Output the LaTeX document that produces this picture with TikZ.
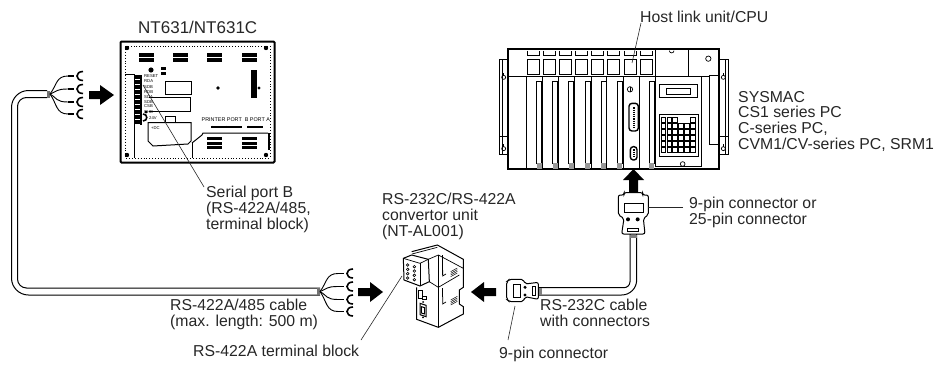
\documentclass[tikz,border=0pt]{standalone}
\usepackage{fontspec}
\setmainfont{Liberation Sans}
\tikzset{
  lbl/.style={anchor=north west,inner sep=0pt,align=left,font=\fontsize{15.8}{15.7}\selectfont,text=black!85},
  tiny/.style={anchor=west,inner sep=0pt,font=\fontsize{4.2}{4.2}\selectfont},
  leader/.style={line width=0.6pt,black!85},
  thin part/.style={line width=0.7pt},
  med/.style={line width=1pt},
  heavy/.style={line width=1.7pt},
  blockarrow/.style={fill=black,draw=none}
}
\newcommand{\forks}{%
  \foreach \fy in {-18,-5,8,20}{
    \draw[line width=0.9pt] (0,0) .. controls (7,\fy*0.5) and (6,\fy) .. (18,\fy);
    \draw[line width=1.5pt] (18,\fy) -- (24,\fy);
    \draw[line width=1.6pt] (33,\fy-4.5) .. controls (25,\fy-4.5) and (25,\fy+4.5) .. (33,\fy+4.5);
  }
}
\begin{document}
\begin{tikzpicture}[x=1pt,y=-1pt]
\useasboundingbox (0,0) rectangle (936,364);
% ---------- NT631 panel
\draw[line width=2pt,rounded corners=1pt] (120.5,41.5) rectangle (274.5,162.5);
\draw[line width=0.9pt,dotted] (125,46) rectangle (270,158);
\foreach \x in {127,266}{\foreach \y in {48,155}{\fill (\x,\y) circle (2.2);}}
\foreach \x/\w in {139/15,173/15,207/15,242/15}{
  \fill (\x,53) rectangle +(\w,3.5);
  \fill (\x,58) rectangle +(\w,4);
}
\foreach \x in {207,242}{
  \fill (\x,137) rectangle +(15,3);
  \fill (\x,141.5) rectangle +(15,3);
  \fill (\x,146) rectangle +(15,3);
}
\fill (151,70) circle (2.6);
\fill (161,67) rectangle +(5,3); \fill (161,71.5) rectangle +(5,3);
\fill (218,88) circle (1.8);
\fill (251,70) rectangle (257,98);
\fill (259,88) circle (1.6);
\draw[thin part] (165,81) rectangle (191,94);
\draw[thin part] (149,97) -- (190,97) -- (190,111.5) -- (149,111.5);
\draw[thin part] (125,74) -- (134,74) -- (134,158);
\fill (134,75) rectangle (142,125);
\foreach \y in {79,84,...,124}{\draw[white,line width=0.5pt] (135,\y) -- (140,\y);}
\foreach \y/\t in {76.5/RESET,81.5/RDA,87/SDB,92/RDB,97.5/SDA,102/SDB,106.5/CSB,112/SHD}{
  \node[tiny] at (144,\y) {\t};
}
\fill (146,112) circle (1.6);
\draw[line width=1.6pt] (143,114) .. controls (148,114) and (148,121) .. (143,121);
\node[tiny] at (149,118.5) {24V};
\draw[med] (148,122.5) -- (191,122.5) -- (191,141) -- (188,144) -- (153,146) -- (148,141) -- cycle;
\node[tiny] at (151,128.5) {+DC};
\draw[med] (165,122) -- (165,116) -- (175,116) -- (175,122);
\draw[med] (192,143) -- (202,135) -- (203,133) -- (268,133);
\draw[thin part] (192,143) -- (192,158);
\draw[line width=1.6pt] (269,133) -- (269,150);
\foreach \x/\w in {212/12,226/15,248/14}{\draw[line width=1.3pt] (\x,125.5) -- ++(0,1.5) -- ++(\w,0) -- ++(0,-1.5);}
\node[tiny,font=\fontsize{5.4}{5.4}\selectfont] (printerports) at (201.5,120) {PRINTER PORT\ \ B PORT A};
% cable
\coordinate (cableTop) at (47,94);
\coordinate (cableBot) at (320,291.5);
\draw[line width=1pt,rounded corners=17pt] (47,90.5) -- (11.5,90.5) -- (11.5,295) -- (320,295);
\draw[line width=1pt,rounded corners=9pt] (47,97.5) -- (17.5,97.5) -- (17.5,288) -- (320,288);
\draw[med] (47,90.5) -- (47,97.5);
\fill[black!55] (47,90.5) rectangle (50,97.5);
\fill[black!55] (317,288) rectangle (320,295);
\begin{scope}[shift={(50,94)}]\forks\end{scope}
\begin{scope}[shift={(320,291.5)}]\forks\end{scope}
% arrows
\fill[blockarrow] (89,91) -- (100,91) -- (100,85) -- (114,95) -- (100,105) -- (100,99) -- (89,99) -- cycle;
\fill[blockarrow] (358,288) -- (370,288) -- (370,282) -- (383,292) -- (370,302) -- (370,296) -- (358,296) -- cycle;
\fill[blockarrow] (496,288) -- (484,288) -- (484,282) -- (471,292) -- (484,302) -- (484,296) -- (496,296) -- cycle;
\fill[blockarrow] (629,192) -- (629,180) -- (623,180) -- (633.5,169) -- (644,180) -- (638,180) -- (638,192) -- cycle;
% ---------- PLC (zoom coordinates)
\begin{scope}[shift={(480,0)},scale=1/3]
  \draw[med] (85,178) -- (57,178) -- (57,462) -- (85,462);
  \draw[med] (717,178) -- (745,178) -- (745,462) -- (717,462);
  \draw[thin part] (67,178) -- (67,462);
  \draw[thin part] (735,178) -- (735,462);
  \draw[thin part] (57,408) -- (85,408);
  \draw[thin part] (717,408) -- (745,408);
  \foreach \x in {71,730}{\foreach \y in {232,446}{
    \draw[thin part] (\x,\y) circle (6);
    \draw[thin part] (\x,\y-6) -- (\x,\y-13);
  }}
  \draw[heavy] (85,148) rectangle (717,507);
  \draw[med] (85,228) -- (527,228);
  \foreach \x in {143,191,239,287,335,383,432,480}{
    \draw[thin part] (\x,152) -- (\x,165) -- (\x+36,165) -- (\x+36,152);
    \draw[thin part] (\x,178) rectangle (\x+36,224);
  }
  \foreach \x in {138,188,235,283,333,380,430,478}{\draw[thin part] (\x,228) -- (\x,507);}
  \foreach \x in {170,218,266,315,363,411,508}{
    \draw[thin part] (\x,245) rectangle (\x+15,490);
    \fill[black!40] (\x,490) rectangle (\x+15,506);
  }
  \draw[thin part] (527,148) -- (527,228);
  \draw[thin part] (625,148) -- (625,228);
  \draw[thin part] (527,228) -- (687,228);
  \draw[thin part] (685,176) circle (8);
  \draw[thin part] (568,152) .. controls (568,161) and (582,161) .. (582,152);
  \draw[thin part] (717,225) -- (687,225) -- (687,432) -- (717,432);
  % programming console
  \draw[med] (527,228) rectangle (663,498);
  \draw[med] (538,252) rectangle (652,292);
  \draw[med] (558,265) rectangle (632,282);
  \draw[med] (538,343) rectangle (654,468);
  \foreach \c in {0,...,5}{\foreach \r in {1,...,5}{
    \draw[line width=0.6pt,fill=white] (543+\c*17.5,352+\r*18) rectangle +(14,14);
  }}
  \foreach \x in {543,560.5,578,630.5}{
    \draw[line width=0.6pt,fill=white] (\x,352) rectangle +(14,14);
  }
  \draw[thin part] (608,492) circle (7);
  % host link connectors
  \draw[thin part] (450,268) circle (8);
  \draw[thin part] (450,261) -- (450,275);
  \draw[line width=1.4pt,rounded corners=3pt] (447,310) -- (475,310) -- (475,393) -- (447,393) -- cycle;
  \draw[line width=2pt,dash pattern=on 1.2pt off 1pt] (461,322) -- (461,382);
  \draw[line width=1.4pt,rounded corners=3pt] (451,440) -- (471,440) -- (471,480) -- (451,480) -- cycle;
  \draw[line width=2pt,dash pattern=on 1.2pt off 1pt] (461,448) -- (461,473);
\end{scope}
% ---------- RS-232C cable with connectors (zoom coordinates)
\begin{scope}[shift={(480,200)},scale=1/3]
  \draw[med,rounded corners=6pt] (450,102) -- (450,263) -- (175,263);
  \draw[med,rounded corners=15pt] (470,102) -- (470,285) -- (175,285);
  \fill[black!50] (450,105) rectangle (470,115);
  \fill[black!50] (175,263) rectangle (187,285);
  \draw[med,fill=white,rounded corners=2pt] (415,-15) -- (432,-15) -- (432,-22) -- (488,-22) -- (488,-15) -- (505,-15) -- (505,45) -- (490,55) -- (495,102) -- (425,102) -- (432,55) -- (415,45) -- cycle;
  \draw[med] (432,10) rectangle (490,38);
  \fill (444,58) circle (6); \fill (473,58) circle (6);
  \draw[med] (442,85) rectangle (476,93);
  \draw[med,fill=white,rounded corners=2pt] (88,238) -- (130,238) -- (135,252) -- (175,247) -- (175,298) -- (135,290) -- (130,305) -- (88,305) -- (80,298) -- (80,245) -- cycle;
  \draw[med] (100,252) rectangle (120,292);
  \fill (135,262) circle (5); \fill (135,285) circle (5);
  \draw[med] (158,258) rectangle (166,285);
\end{scope}
% ---------- NT-AL001 (zoom coordinates)
\begin{scope}[shift={(300,200)},scale=1/3]
  \draw[med,fill=white] (335,155) -- (412,135) -- (490,178) -- (490,262) -- (478,270) -- (478,312) -- (490,320) -- (490,342) -- (415,382) -- (350,358) -- (350,262);
  \draw[thin part] (412,142) -- (336,162);
  \draw[thin part] (385,178) -- (415,165) -- (490,205);
  \draw[thin part] (415,165) -- (415,382);
  \draw[thin part] (388,245) -- (415,262) -- (478,225);
  \draw[thin part] (428,165) -- (428,225);
  \draw[thin part] (428,210) -- (428,228) -- (438,222);
  \draw[thin part] (428,290) -- (428,312) -- (438,306);
  \draw[thin part] (428,265) -- (428,290);
  \foreach \d in {0,5,10,15}{
    \draw[line width=0.5pt] (452,215+\d) -- (472,204+\d);
    \draw[line width=0.5pt] (452,300+\d) -- (472,289+\d);
  }
  \draw[med,fill=white] (310,175) -- (335,165) -- (385,178) -- (388,245) -- (360,258) -- (312,240) -- cycle;
  \draw[thin part] (310,175) -- (360,190) -- (385,178);
  \draw[thin part] (360,190) -- (360,258);
  \foreach \x/\s in {320/0,340/5}{\foreach \y in {195,208,221,234}{
    \draw[line width=0.6pt] (\x+3,\y+\s) circle (4);
  }}
  \draw[med] (356,270) rectangle (366,296);
  \draw[med] (366,290) rectangle (380,298);
  \draw[med] (360,310) -- (378,316) -- (378,350) -- (360,344) -- cycle;
  \draw[med] (364,320) -- (374,323) -- (374,342) -- (364,339) -- cycle;
  \fill (369,352) circle (3);
  \fill (369,306) circle (3);
\end{scope}
% ---------- labels
\node[lbl,font=\fontsize{17}{17}\selectfont] (nt) at (138,21) {NT631/NT631C};
\node[lbl] (host) at (640,11) {Host link unit/CPU};
\node[lbl] (sysmac) at (738,91) {SYSMAC\\CS1 series PC\\C-series PC,\\CVM1/CV-series PC, SRM1};
\node[lbl] (serial) at (206,186) {Serial port B\\(RS-422A/485,\\terminal block)};
\node[lbl] (conv) at (382,193) {RS-232C/RS-422A\\convertor unit\\(NT-AL001)};
\node[lbl] (ninep2) at (689,197) {9-pin connector or\\25-pin connector};
\node[lbl] (rs232) at (540,299) {RS-232C cable\\with connectors};
\node[lbl] (ninep) at (499,347) {9-pin connector};
\node[lbl] (rs422) at (170,299) {RS-422A/485 cable\\(max. length: 500 m)};
\node[lbl] (tb) at (193,345) {RS-422A terminal block};
% ---------- leaders
\coordinate (hostEnd) at (632,63);
\coordinate (serialEnd) at (143,85);
\coordinate (tbEnd) at (402,276);
\coordinate (ninepEnd) at (515,306);
\coordinate (ninep2End) at (648,207);
\draw[leader] (host.north west)++(1,12) -- (hostEnd);
\draw[leader] (serial.north west)++(-2,1) -- (serialEnd);
\coordinate (tbStart) at (361,340);
\draw[leader] (tbStart) -- (tbEnd);
\coordinate (ninepStart) at (508,340);
\draw[leader] (ninepStart) -- (ninepEnd);
\draw[leader] (ninep2.north west)++(-6,10) -- (ninep2End);
\end{tikzpicture}
\end{document}
